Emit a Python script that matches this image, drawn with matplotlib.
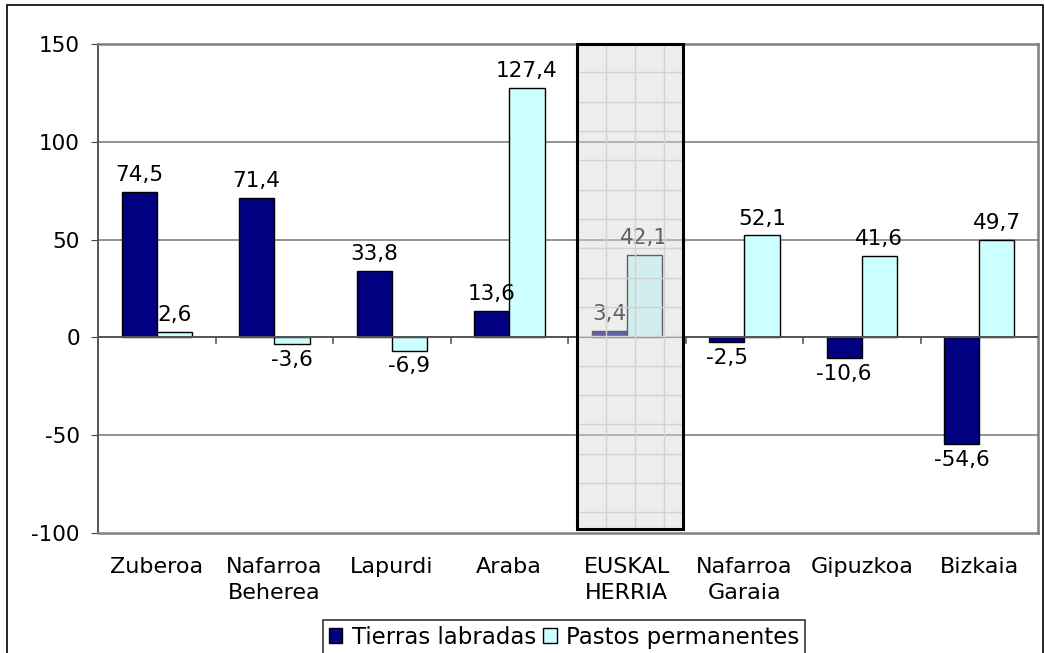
import matplotlib.pyplot as plt
from matplotlib.patches import Rectangle
import numpy as np

categorias = ["Zuberoa", "Nafarroa\nBeherea", "Lapurdi", "Araba", "EUSKAL\nHERRIA",
              "Nafarroa\nGaraia", "Gipuzkoa", "Bizkaia"]
tierras = [74.5, 71.4, 33.8, 13.6, 3.4, -2.5, -10.6, -54.6]
pastos = [2.6, -3.6, -6.9, 127.4, 42.1, 52.1, 41.6, 49.7]
series = ["Tierras labradas", "Pastos permanentes"]

plt.rcParams['font.family'] = ['DejaVu Sans']
fs = 15.5

fig = plt.figure(figsize=(10.45, 6.53), dpi=100)
ax = fig.add_axes([0.0938, 0.1838, 0.8995, 0.7488])

x = np.arange(len(categorias))
w = 0.3
b1 = ax.bar(x - w/2, tierras, w, color="#000080", edgecolor="black", lw=1, label=series[0], zorder=3)
b2 = ax.bar(x + w/2, pastos, w, color="#ccffff", edgecolor="black", lw=1, label=series[1], zorder=3)

def fmt(v):
    return f"{v:.1f}".replace(".", ",")

for bars, vals in ((b1, tierras), (b2, pastos)):
    for r, v in zip(bars, vals):
        cx = r.get_x() + r.get_width()/2
        if v >= 0:
            ax.annotate(fmt(v), (cx, v), xytext=(0, 5), textcoords="offset points",
                        ha="center", va="bottom", fontsize=fs, zorder=4)
        else:
            ax.annotate(fmt(v), (cx, v), xytext=(0, -4), textcoords="offset points",
                        ha="center", va="top", fontsize=fs, zorder=4)

ax.set_xlim(-0.5, len(categorias) - 0.5)
ax.set_ylim(-100, 150)
ax.set_yticks(range(-100, 151, 50))
ax.set_yticklabels([str(t) for t in range(-100, 151, 50)], fontsize=fs)
ax.set_xticks(x)
ax.set_xticklabels(categorias, fontsize=16, linespacing=1.4)
ax.tick_params(axis="x", length=0, pad=17)
ax.tick_params(axis="y", length=5, direction="out", color="#444444", pad=8)

for t in range(-50, 151, 50):
    ax.axhline(t, color="#808080", lw=1.2, zorder=1)
ax.axhline(0, color="#555555", lw=1.4, zorder=5)
for bx in np.arange(-0.5, len(categorias), 1.0)[1:-1]:
    ax.plot([bx, bx], [0, -3], color="#555555", lw=1.2, zorder=5)

for s in ("top", "right", "bottom"):
    ax.spines[s].set_color("#808080")
    ax.spines[s].set_linewidth(1.8)
ax.spines["left"].set_color("#555555")
ax.spines["left"].set_linewidth(1.4)

# caja sombreada de EUSKAL HERRIA
x0, x1, y0, y1 = 4 - 0.42, 4 + 0.48, -98, 150
ax.add_patch(Rectangle((x0, y0), x1 - x0, y1 - y0, facecolor="#d8d8d8", alpha=0.45,
                       edgecolor="none", zorder=6))
for gx in np.arange(x0 + 0.24, x1, 0.25):
    ax.plot([gx, gx], [y0, y1], color="#d2d2d2", lw=1, zorder=6)
for gy in np.arange(y1 - 14.5, y0, -15):
    ax.plot([x0, x1], [gy, gy], color="#d2d2d2", lw=1, zorder=6)
ax.add_patch(Rectangle((x0, y0), x1 - x0, y1 - y0, facecolor="none", edgecolor="black",
                       lw=2.2, zorder=7, clip_on=False))

leg = fig.legend(handles=[b1, b2], labels=series, loc="upper left",
                 bbox_to_anchor=(323/1045, 1 - 620/653), ncol=2, fontsize=16.5, frameon=True,
                 fancybox=False, edgecolor="black", handlelength=0.6, handleheight=0.6,
                 handletextpad=0.4, columnspacing=0.3, borderpad=0.25, borderaxespad=0)
leg.get_frame().set_linewidth(1.2)

fig.patches.append(Rectangle((7/1045, -0.05), 1036/1045, 1.05 - 5/653,
                             transform=fig.transFigure, fill=False, edgecolor="black", lw=1.2))

fig.savefig("out.png", dpi=100)
